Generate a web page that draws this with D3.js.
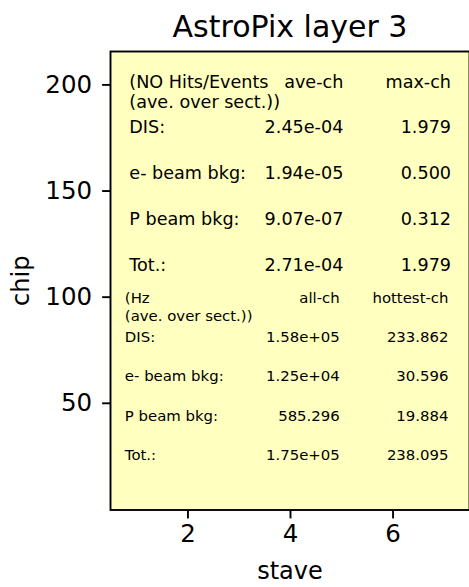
<!DOCTYPE html>
<html>
<head>
<meta charset="utf-8">
<script src="https://cdn.jsdelivr.net/npm/d3@7"></script>
<style>
  body { margin: 0; background: #fff; }
  text { font-family: "DejaVu Sans", sans-serif; fill: #000; }
</style>
</head>
<body>
<script>
// data
var xTicks = [2, 4, 6];
var yTicks = [50, 100, 150, 200];
var rowLabels = ["DIS:", "e- beam bkg:", "P beam bkg:", "Tot.:"];
var hitsAve = [2.45e-4, 1.94e-5, 9.07e-7, 2.71e-4];
var hitsMax = [1.979, 0.500, 0.312, 1.979];
var rateAll = [1.58e5, 1.25e4, 585.296, 1.75e5];
var rateHot = [233.862, 30.596, 19.884, 238.095];

// set the dimensions and margins of the graph
var outerWidth = 469;
var outerHeight = 587;
var margin = {top: 51.5, right: -0.5, bottom: 77, left: 110.5},
    width = outerWidth - margin.left - margin.right,
    height = outerHeight - margin.top - margin.bottom;

var x = d3.scaleLinear().domain([0.5, 7.5]).range([0, width]);
var y = d3.scaleLinear().domain([-0.5, 215.5]).range([height, 0]);

// matplotlib-ish number formats
function sci(v) {
  var s = v.toExponential(2).split("e");
  var e = +s[1];
  return s[0] + "e" + (e < 0 ? "-" : "+") + String(Math.abs(e)).padStart(2, "0");
}
function fix3(v) { return v.toFixed(3); }
function rate(v) { return v >= 1000 ? sci(v) : fix3(v); }

var svg = d3.select("body").append("svg")
    .attr("width", outerWidth)
    .attr("height", outerHeight);

var g = svg.append("g")
    .attr("transform", "translate(" + margin.left + "," + margin.top + ")");

// axes background
g.append("rect")
    .attr("width", width)
    .attr("height", height)
    .attr("fill", "#ffffc0")
    .attr("stroke", "#000")
    .attr("stroke-width", 1.9);

// axes
var xAxis = g.append("g")
    .attr("transform", "translate(0," + height + ")")
    .call(d3.axisBottom(x).tickValues(xTicks).tickFormat(d3.format("d"))
      .tickSizeInner(8.4).tickSizeOuter(0).tickPadding(6));
var yAxis = g.append("g")
    .call(d3.axisLeft(y).tickValues(yTicks).tickFormat(d3.format("d"))
      .tickSizeInner(8.4).tickSizeOuter(0).tickPadding(10));

[xAxis, yAxis].forEach(function(a) {
  a.select(".domain").remove();
  a.selectAll(".tick line").attr("stroke", "#000").attr("stroke-width", 1.9);
  a.selectAll(".tick text")
    .style("font-family", "DejaVu Sans")
    .style("font-size", "24.5px")
    .attr("fill", "#000");
});

// title and axis labels
svg.append("text")
    .attr("x", margin.left + width / 2)
    .attr("y", 37)
    .attr("text-anchor", "middle")
    .style("font-size", "30px")
    .text("AstroPix layer 3");

svg.append("text")
    .attr("x", margin.left + width / 2)
    .attr("y", 579)
    .attr("text-anchor", "middle")
    .style("font-size", "24px")
    .text("stave");

svg.append("text")
    .attr("transform", "translate(29," + (margin.top + height / 2) + ") rotate(-90)")
    .attr("text-anchor", "middle")
    .style("font-size", "24px")
    .text("chip");

// text tables placed in data coordinates
function table(opts) {
  var t = g.append("g").style("font-size", opts.size + "px");
  function put(col, yv, str, anchor) {
    t.append("text")
      .attr("x", x(col))
      .attr("y", y(yv))
      .attr("text-anchor", anchor)
      .text(str);
  }
  put(opts.c0, opts.head, opts.head0, "start");
  put(opts.c1, opts.head, opts.head1, "end");
  put(opts.c2, opts.head, opts.head2, "end");
  put(opts.c0, opts.head2nd, "(ave. over sect.))", "start");
  rowLabels.forEach(function(lab, i) {
    var yv = opts.first - i * opts.step;
    put(opts.c0, yv, lab, "start");
    put(opts.c1, yv, opts.f1(opts.v1[i]), "end");
    put(opts.c2, yv, opts.f2(opts.v2[i]), "end");
  });
}

table({size: 17.6, c0: 0.867, c1: 5.04, c2: 7.14,
       head: 198.2, head2nd: 189.0, first: 177.0, step: 21.7,
       head0: "(NO Hits/Events", head1: "ave-ch", head2: "max-ch",
       v1: hitsAve, v2: hitsMax, f1: sci, f2: fix3});

table({size: 14.9, c0: 0.78, c1: 4.97, c2: 7.09,
       head: 96.9, head2nd: 88.7, first: 78.5, step: 18.45,
       head0: "(Hz", head1: "all-ch", head2: "hottest-ch",
       v1: rateAll, v2: rateHot, f1: rate, f2: fix3});
</script>
</body>
</html>
